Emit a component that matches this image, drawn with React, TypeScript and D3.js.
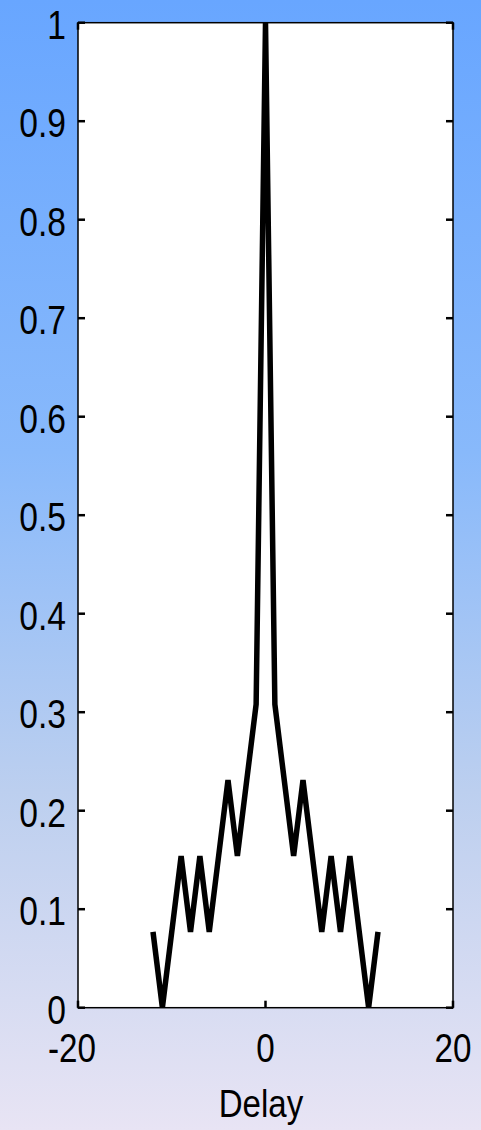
import React from 'react';
import * as d3 from 'd3';

const delays = [-12, -11, -10, -9, -8, -7, -6, -5, -4, -3, -2, -1, 0, 1, 2, 3, 4, 5, 6, 7, 8, 9, 10, 11, 12];
const correlation = [
  0.077, 0, 0.077, 0.154, 0.077, 0.154, 0.077, 0.154, 0.231, 0.154, 0.231, 0.308,
  1,
  0.308, 0.231, 0.154, 0.231, 0.154, 0.077, 0.154, 0.077, 0.154, 0.077, 0, 0.077,
];
const xTicks = [-20, 0, 20];
const yTicks = [0, 0.1, 0.2, 0.3, 0.4, 0.5, 0.6, 0.7, 0.8, 0.9, 1];
const xLabel = 'Delay';

const width = 481;
const height = 1130;
const font = '"Liberation Sans", Arial, sans-serif';

const App = () => {
  const x = d3.scaleLinear().domain([-20, 20]).range([78, 453]);
  const y = d3.scaleLinear().domain([0, 1]).range([1007.7, 22.7]);
  const [x0, x1] = x.range();
  const [y0, y1] = y.range();

  const data = delays.map((d, i) => ({ d, v: correlation[i] }));
  const line = d3.line<{ d: number; v: number }>()
    .x(p => x(p.d))
    .y(p => y(p.v));

  const tickLen = 7;

  return (
    <svg width={width} height={height} style={{ position: 'absolute', left: 0, top: 0 }}>
      <defs>
        <linearGradient id="bg" x1="0" y1="0" x2="0" y2="1">
          <stop offset="0" stopColor="#68a6ff" />
          <stop offset="0.4" stopColor="#88b9fb" />
          <stop offset="0.7" stopColor="#bccfef" />
          <stop offset="1" stopColor="#e8e4f4" />
        </linearGradient>
      </defs>
      <rect width={width} height={height} fill="url(#bg)" />
      <rect x={x0} y={y1} width={x1 - x0} height={y0 - y1} fill="#fff" />

      {yTicks.map(t => (
        <g key={t}>
          <line x1={x0} x2={x0 + tickLen} y1={y(t)} y2={y(t)} stroke="#000" strokeWidth={2.5} />
          <line x1={x1} x2={x1 - tickLen} y1={y(t)} y2={y(t)} stroke="#000" strokeWidth={2.5} />
          <text
            transform={`translate(66,${y(t) + 2}) scale(0.82,1)`}
            textAnchor="end"
            dominantBaseline="central"
            fontFamily={font}
            fontSize={41}
          >
            {String(t)}
          </text>
        </g>
      ))}

      {xTicks.map(t => (
        <g key={t}>
          <line x1={x(t)} x2={x(t)} y1={y0} y2={y0 - tickLen} stroke="#000" strokeWidth={2.5} />
          <line x1={x(t)} x2={x(t)} y1={y1} y2={y1 + tickLen} stroke="#000" strokeWidth={2.5} />
          <text
            transform={`translate(${x(t) + (t < 0 ? -6 : 0)},1062) scale(0.81,1)`}
            textAnchor="middle"
            fontFamily={font}
            fontSize={41}
          >
            {String(t)}
          </text>
        </g>
      ))}

      <rect x={x0} y={y1} width={x1 - x0} height={y0 - y1} fill="none" stroke="#000" strokeWidth={1.5} />

      <path d={line(data) ?? ''} fill="none" stroke="#000" strokeWidth={5.5} strokeLinejoin="miter" />

      <text
        transform={`translate(261,1117) scale(0.87,1)`}
        textAnchor="middle"
        fontFamily={font}
        fontSize={38}
      >
        {xLabel}
      </text>
    </svg>
  );
};

export default App;
